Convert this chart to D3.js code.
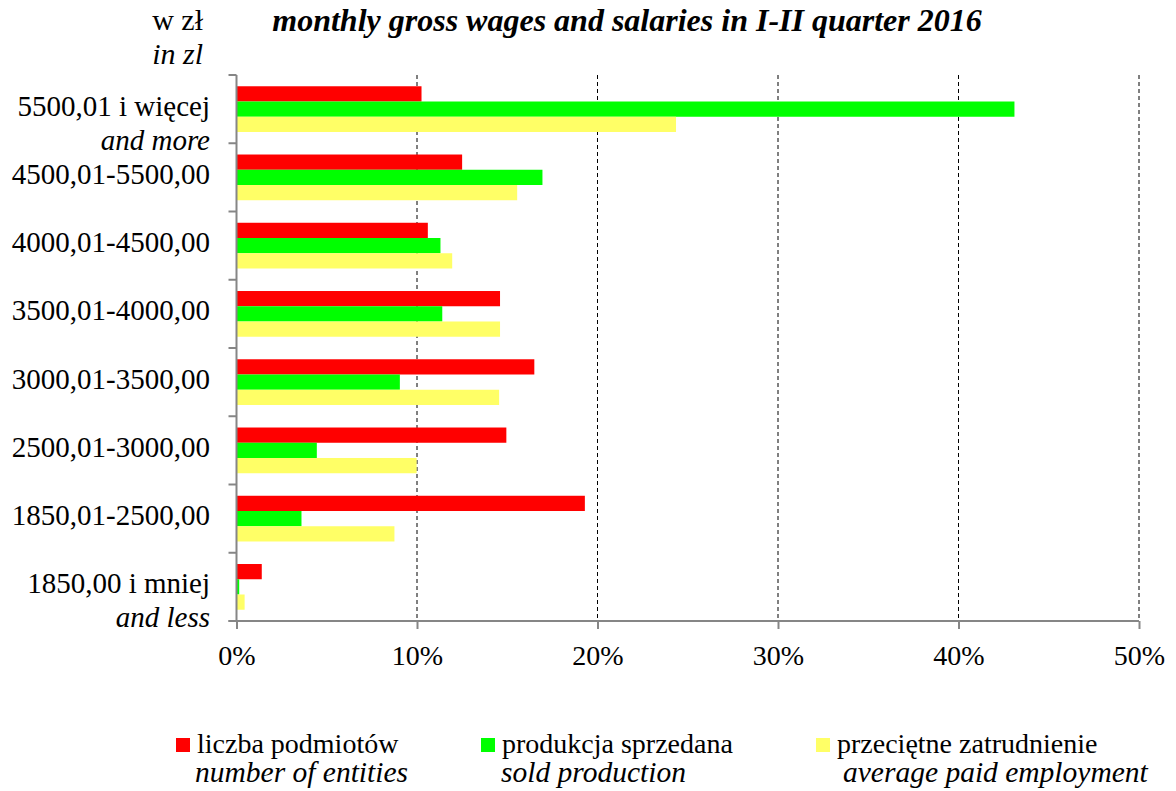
<!DOCTYPE html>
<html>
<head>
<meta charset="utf-8">
<script src="https://cdn.jsdelivr.net/npm/d3@7"></script>
<style>
  body { margin: 0; background: #fff; }
  svg text { font-family: "Liberation Serif", "Times New Roman", serif; fill: #000; }
</style>
</head>
<body>
<div id="chart_div"></div>
<script>
// categories (top to bottom), second line is the english part
const categories = ["5500,01 i więcej", "4500,01-5500,00", "4000,01-4500,00", "3500,01-4000,00",
  "3000,01-3500,00", "2500,01-3000,00", "1850,01-2500,00", "1850,00 i mniej"];
const categoriesEn = ["and more", "", "", "", "", "", "", "and less"];

const seriesNames = ["liczba podmiotów", "produkcja sprzedana", "przeciętne zatrudnienie"];
const seriesNamesEn = ["number of entities", "sold production", "average paid employment"];
const seriesColors = ["#ff0000", "#00ff00", "#ffff66"];

// shares in %
const entities   = [10.25, 12.5, 10.6, 14.6, 16.5, 14.95, 19.3, 1.4];
const production = [43.1, 16.95, 11.3, 11.4, 9.05, 4.45, 3.6, 0.15];
const employment = [24.35, 15.55, 11.95, 14.6, 14.55, 9.98, 8.75, 0.45];

const xTicks = [0, 10, 20, 30, 40, 50];
const xTickLabels = ["0%", "10%", "20%", "30%", "40%", "50%"];

const W = 1176, H = 791;
const mLeft = 236.5, mRight = 1139, mTop = 75, mBottom = 621;

const svg = d3.select("#chart_div").append("svg")
  .attr("width", W).attr("height", H);

const x = d3.scaleLinear().domain([0, 50]).range([mLeft, mRight]);
const y = d3.scaleBand().domain(categories).range([mTop, mBottom])
  .paddingInner(0.33).paddingOuter(0.165);
const ySub = d3.scaleBand().domain(seriesNames).range([0, y.bandwidth()]);

const values = [entities, production, employment];

// dashed grid
svg.append("g")
  .selectAll("line")
  .data(xTicks.slice(1)).enter()
  .append("line")
  .attr("x1", d => x(d)).attr("x2", d => x(d))
  .attr("y1", mTop).attr("y2", mBottom)
  .attr("stroke", "#000").attr("stroke-width", 1)
  .attr("stroke-dasharray", "4,3");

// bars
const groups = svg.append("g")
  .selectAll("g")
  .data(categories).enter()
  .append("g")
  .attr("transform", d => "translate(0," + y(d) + ")");

groups.selectAll("rect")
  .data((d, i) => seriesNames.map((s, j) => ({ s: s, v: values[j][i], c: seriesColors[j] })))
  .enter()
  .append("rect")
  .attr("x", x(0))
  .attr("y", d => ySub(d.s))
  .attr("width", d => x(d.v) - x(0))
  .attr("height", ySub.bandwidth())
  .attr("fill", d => d.c);

// y axis with ticks at band boundaries
const axisColor = "#868686";
const bounds = categories.map(c => y(c) - y.step() * y.paddingInner() / 2).concat([mBottom]);
svg.append("line")
  .attr("x1", mLeft).attr("x2", mLeft).attr("y1", mTop).attr("y2", mBottom)
  .attr("stroke", axisColor).attr("stroke-width", 2);
svg.append("g").selectAll("line")
  .data(bounds).enter()
  .append("line")
  .attr("x1", mLeft - 8).attr("x2", mLeft)
  .attr("y1", d => d).attr("y2", d => d)
  .attr("stroke", axisColor).attr("stroke-width", 2);

// x axis
const xAxis = svg.append("g")
  .attr("transform", "translate(0," + mBottom + ")")
  .call(d3.axisBottom(x).tickValues(xTicks).tickFormat((d, i) => xTickLabels[i])
    .tickSize(8).tickPadding(16));
xAxis.select(".domain").attr("stroke", axisColor).attr("stroke-width", 2)
  .attr("d", "M" + (mLeft - 8) + ",0H" + mRight);
xAxis.selectAll(".tick line").attr("stroke", axisColor).attr("stroke-width", 2);
xAxis.selectAll(".tick text")
  .style("font-family", "Liberation Serif")
  .style("font-size", "28px").attr("fill", "#000");

// category labels
svg.append("g").selectAll("text")
  .data(categories).enter()
  .append("text")
  .attr("x", 210)
  .attr("y", d => y(d) + y.bandwidth() / 2 + 6.5)
  .attr("text-anchor", "end")
  .style("font-size", "29px")
  .text(d => d);

svg.append("g").selectAll("text")
  .data(categories.filter((c, i) => categoriesEn[i])).enter()
  .append("text")
  .attr("x", 210)
  .attr("y", d => y(d) + y.bandwidth() / 2 + 40.5)
  .attr("text-anchor", "end")
  .style("font-size", "29px")
  .style("font-style", "italic")
  .text(d => categoriesEn[categories.indexOf(d)]);

// unit
svg.append("text").attr("x", 203).attr("y", 30).attr("text-anchor", "end")
  .style("font-size", "30px").text("w zł");
svg.append("text").attr("x", 203).attr("y", 64).attr("text-anchor", "end")
  .style("font-size", "30px").style("font-style", "italic").text("in zl");

// title
svg.append("text").attr("x", 627).attr("y", 31).attr("text-anchor", "middle")
  .style("font-size", "32px").style("font-style", "italic").style("font-weight", "bold")
  .text("monthly gross wages and salaries in I-II quarter 2016");

// legend
const legendX = [176, 481, 816];
const legendEnX = [195, 501, 843];
const legend = svg.append("g").selectAll("g")
  .data(seriesNames).enter()
  .append("g");
legend.append("rect")
  .attr("x", (d, i) => legendX[i]).attr("y", 738)
  .attr("width", 14).attr("height", 14)
  .attr("fill", (d, i) => seriesColors[i]);
legend.append("text")
  .attr("x", (d, i) => legendX[i] + 21).attr("y", 753)
  .style("font-size", "28px")
  .text(d => d);
legend.append("text")
  .attr("x", (d, i) => legendEnX[i]).attr("y", 782)
  .style("font-size", "29.5px").style("font-style", "italic")
  .text((d, i) => seriesNamesEn[i]);
</script>
</body>
</html>
